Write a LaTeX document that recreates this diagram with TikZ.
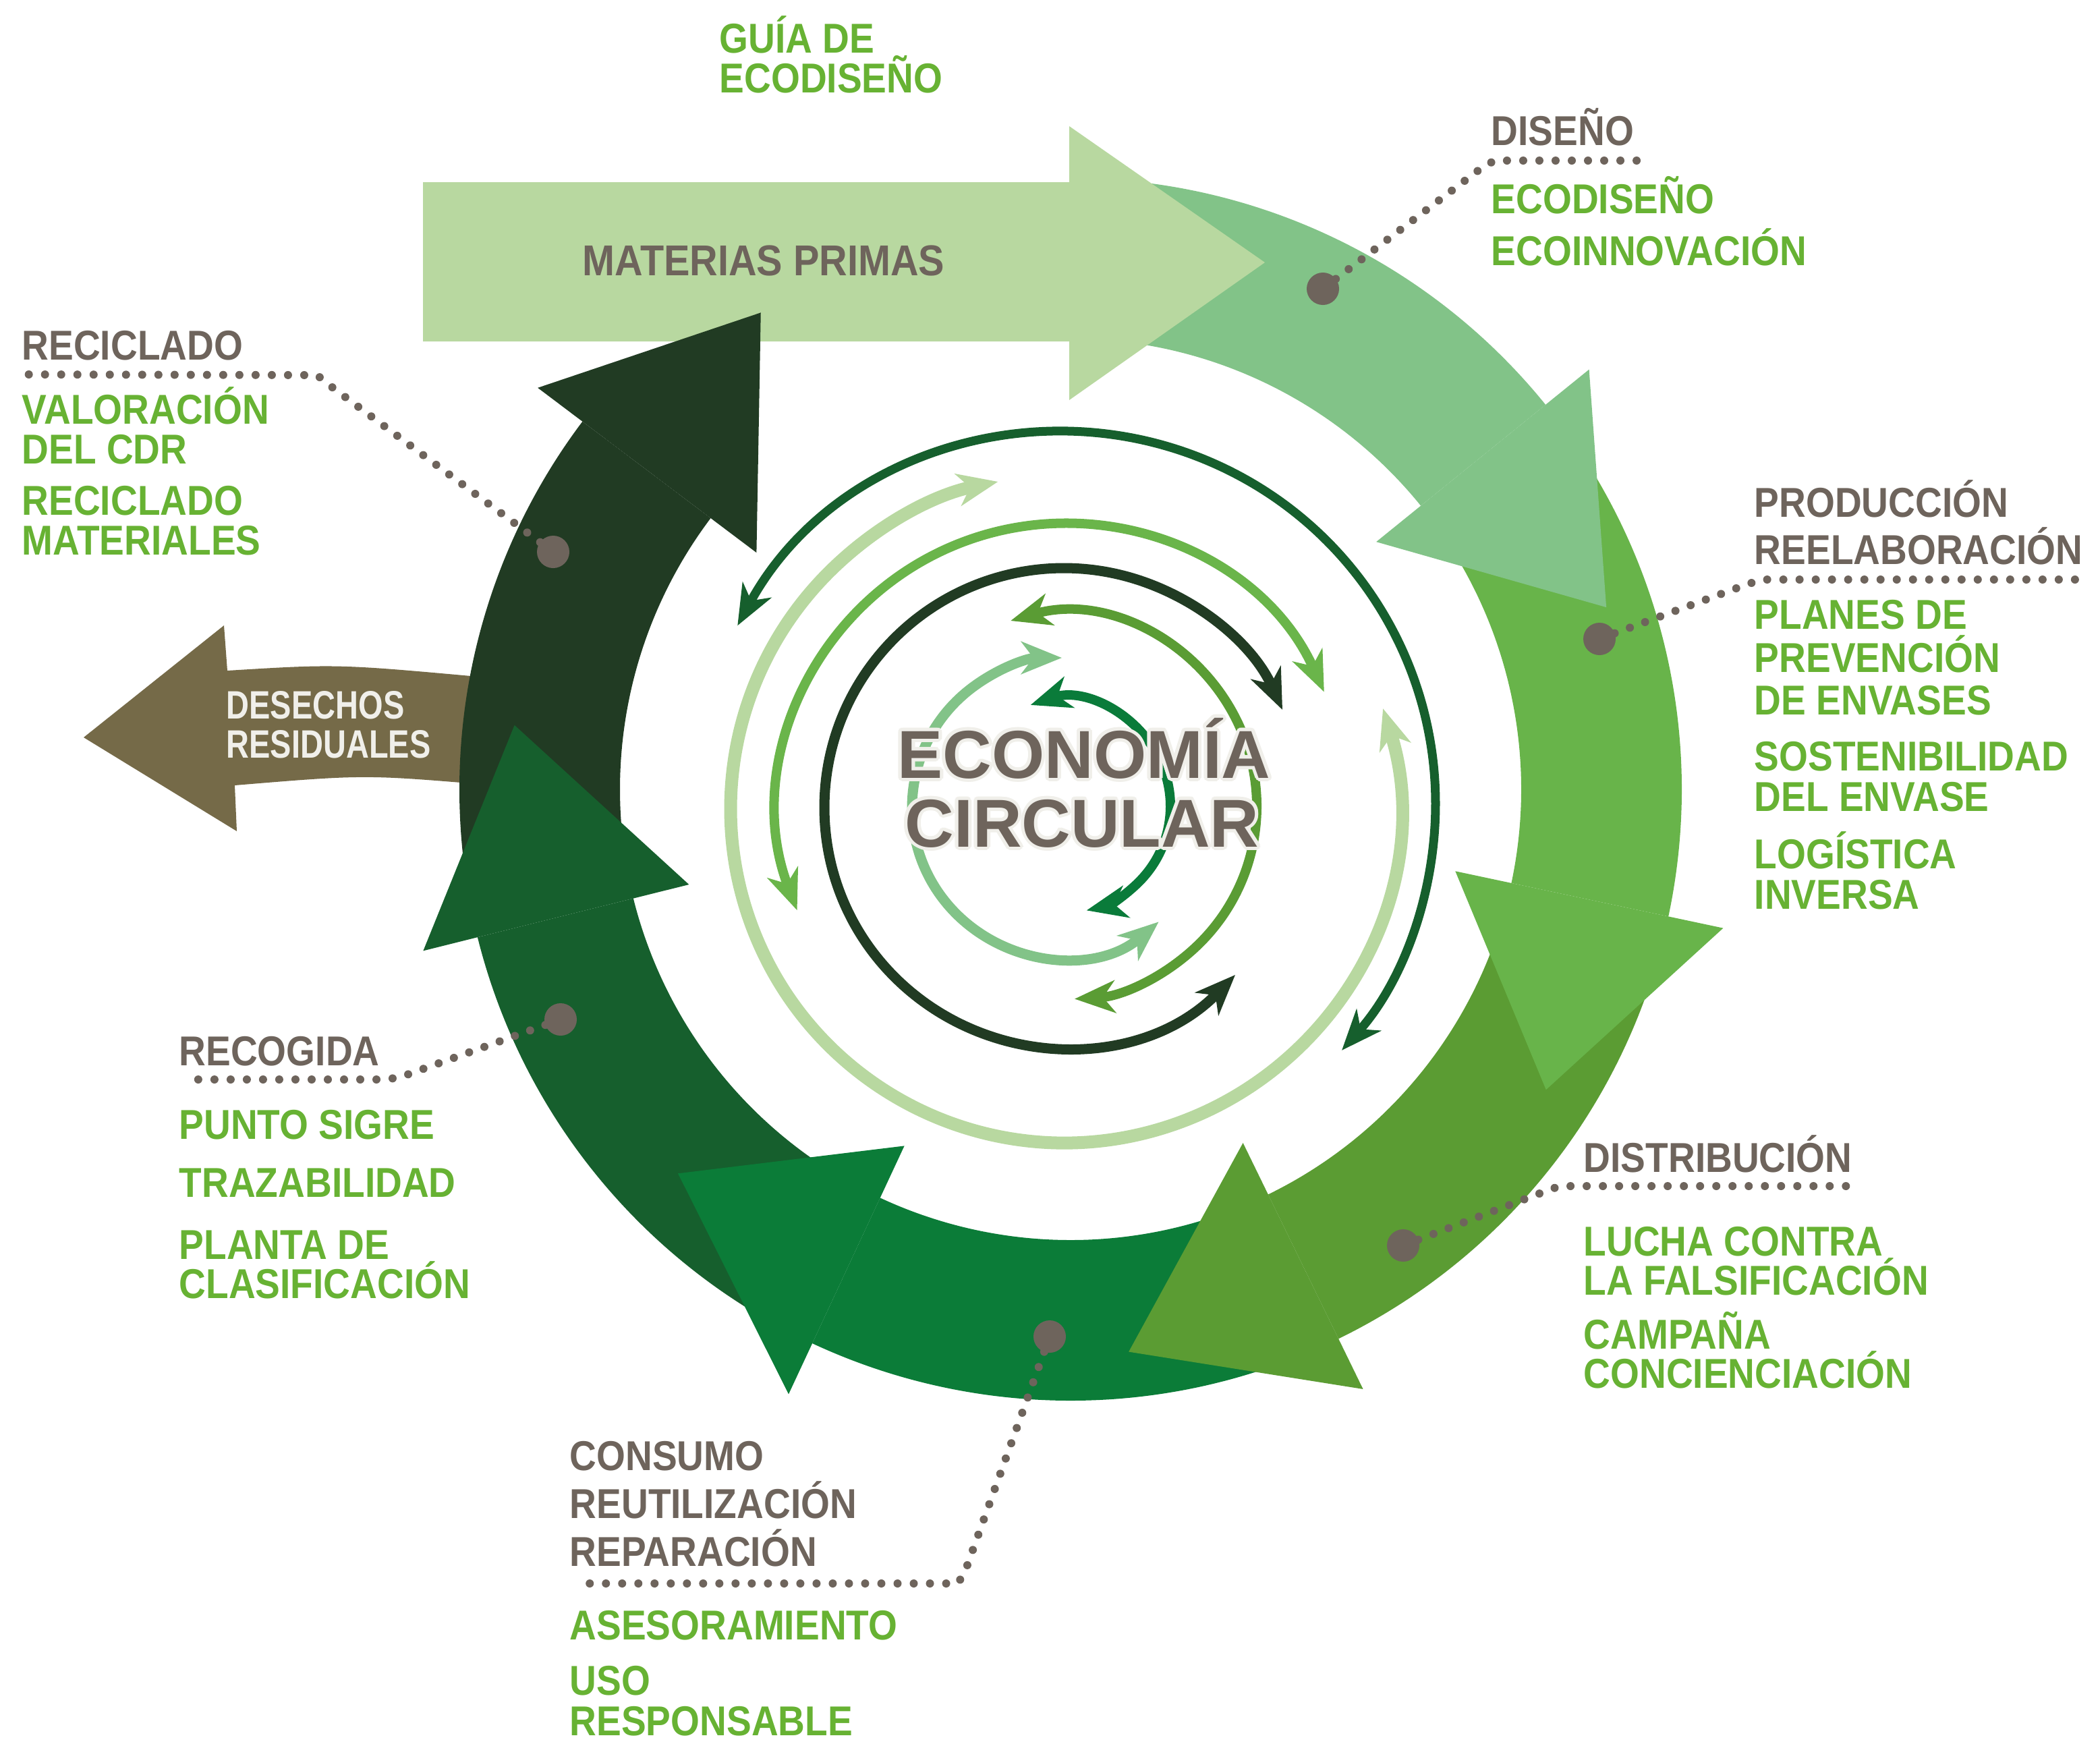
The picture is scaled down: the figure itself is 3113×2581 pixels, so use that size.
\documentclass[tikz,border=0pt]{standalone}
\usepackage{fontspec}
\setmainfont{Liberation Sans}
\newfontfamily\lblfont{Liberation Sans}[FakeStretch=0.89]
\newfontfamily\matfont{Liberation Sans}[FakeStretch=0.90]
\newfontfamily\desfont{Liberation Sans}[FakeStretch=0.80]
\newfontfamily\titfont{Liberation Sans}
\usetikzlibrary{arrows.meta}
\definecolor{cGrey}{HTML}{6E645C}
\definecolor{cGreen}{HTML}{67B233}
\definecolor{cMat}{HTML}{B8D8A0}
\definecolor{cDes}{HTML}{82C388}
\definecolor{cPro}{HTML}{68B44A}
\definecolor{cDist}{HTML}{5B9C33}
\definecolor{cCon}{HTML}{0B7C38}
\definecolor{cRcg}{HTML}{165F2D}
\definecolor{cRec}{HTML}{213B23}
\definecolor{cBrown}{HTML}{756A48}
\definecolor{cCream}{HTML}{F0EFEA}
\definecolor{cMed}{HTML}{6AB54A}
\definecolor{cOlive}{HTML}{5A9C34}
\definecolor{cDeep}{HTML}{0A7B3A}
\tikzset{
 lbl/.style={anchor=base west, inner sep=0pt, font={\lblfont\bfseries\fontsize{17.6pt}{21pt}\selectfont}},
 greytxt/.style={lbl, text=cGrey},
 greentxt/.style={lbl, text=cGreen},
 destxt/.style={anchor=base west, inner sep=0pt, text=cCream, font={\desfont\bfseries\fontsize{16.7pt}{20pt}\selectfont}},
 mattxt/.style={anchor=base west, inner sep=0pt, text=cGrey, font={\matfont\bfseries\fontsize{18.2pt}{22pt}\selectfont}},
 tittxt/.style={anchor=base, inner sep=0pt, font={\titfont\bfseries\fontsize{28.6pt}{34pt}\selectfont}},
 titfg/.style={tittxt, text=cGrey},
 titbg/.style={tittxt, text=cCream},
 dotline/.style={draw=cGrey, line width=0.12cm, line cap=round, dash pattern=on 0pt off 0.24cm},
 bigdot/.style={circle, fill=cGrey, minimum size=0.48cm, inner sep=0pt},
 inarc/.style={<->, line width=0.14cm},
}
\begin{document}
\begin{tikzpicture}[x=0.01cm, y=-0.01cm, >={Stealth[length=6mm,width=4.8mm,inset=1.8mm]}]
\useasboundingbox (0,0) rectangle (3113,2581);

% desechos residuales arrow
\fill[cBrown] (124,1093) -- (332,927) -- (337,994) .. controls (500,984) .. (720,1004) -- (720,1163) .. controls (540,1148) .. (348,1164) -- (351,1232) -- cycle;

% ring bands
\begin{scope}[shift={(1587,1170)}]
 \fill[cDes] (-88:906) arc[start angle=-88,end angle=-39,radius=906] -- (-39:668) arc[start angle=-39,end angle=-88,radius=668] -- cycle;
 \fill[cPro] (-33:906) arc[start angle=-33,end angle=12,radius=906] -- (12:668) arc[start angle=12,end angle=-33,radius=668] -- cycle;
 \fill[cDist] (18:906) arc[start angle=18,end angle=64,radius=906] -- (64:668) arc[start angle=64,end angle=18,radius=668] -- cycle;
 \fill[cCon] (70:906) arc[start angle=70,end angle=115,radius=906] -- (115:668) arc[start angle=115,end angle=70,radius=668] -- cycle;
 \fill[cRcg] (121:906) arc[start angle=121,end angle=166,radius=906] -- (166:668) arc[start angle=166,end angle=121,radius=668] -- cycle;
 \fill[cRec] (172:906) arc[start angle=172,end angle=217,radius=906] -- (217:668) arc[start angle=217,end angle=172,radius=668] -- cycle;
\end{scope}

% materias primas arrow
\fill[cMat] (627,270) -- (1585,270) -- (1585,187) -- (1875,389) -- (1585,593) -- (1585,506) -- (627,506) -- cycle;

% ring arrow heads
\begin{scope}[shift={(1587,1170)}]
 \fill[cDes] (-39:989) -- ([shift={(51:290)}]-39:787) -- (-39:583) -- cycle;
 \fill[cPro] (12:989) -- ([shift={(103:289)}]12:787) -- (12:583) -- cycle;
 \fill[cDist] (64:989) -- ([shift={(154:288)}]64:787) -- (64:583) -- cycle;
 \fill[cCon] (115:989) -- ([shift={(210:288)}]115:787) -- (115:583) -- cycle;
 \fill[cRcg] (166:989) -- ([shift={(258:292)}]166:787) -- (166:583) -- cycle;
 \fill[cRec] (217:989) -- ([shift={(306:288)}]217:787) -- (217:583) -- cycle;
\end{scope}

% inner arcs
\draw[inarc, cRcg, line width=0.13cm] ([shift={(208.6:551)}]1577,1191) arc[start angle=208.6,end angle=401.6,radius=551];
\draw[inarc, cMat, line width=0.19cm] ([shift={(-17.5:495)}]1578,1199) arc[start angle=-17.5,end angle=258.5,radius=495];
\draw[inarc, cMed] ([shift={(159.2:423)}]1577,1199) arc[start angle=159.2,end angle=335.8,radius=423];
\draw[inarc, cRec, line width=0.15cm] ([shift={(44.3:355)}]1577,1197) arc[start angle=44.3,end angle=335.9,radius=355];
\draw[inarc, cOlive] ([shift={(254:286)}]1577,1195) arc[start angle=254,end angle=446.8,radius=286];
\draw[inarc, cDes, line width=0.15cm] ([shift={(49.7:222)}]1574,1197) arc[start angle=49.7,end angle=270,radius=222];
\draw[inarc, cDeep] ([shift={(251.8:158)}]1577,1195) arc[start angle=251.8,end angle=437.7,radius=158];

% title with outline
\foreach \i in {0,...,15} {
 \node[titbg] (tbE\i) at ([shift={({\i*22.5}:5)}]1607,1153) {ECONOMÍA};
 \node[titbg] (tbC\i) at ([shift={({\i*22.5}:5)}]1604,1255) {CIRCULAR};
}
\node[titfg] (tE) at (1607,1153) {ECONOMÍA};
\node[titfg] (tC) at (1604,1255) {CIRCULAR};

% dotted leaders
\coordinate (pDis) at (1961,428);   \coordinate (eDis) at (2445,238);
\coordinate (pRec) at (820,818);    \coordinate (eRec) at (40,555);
\coordinate (pPro) at (2371,947);   \coordinate (ePro) at (3092,859);
\coordinate (pDist) at (2080,1846); \coordinate (eDist) at (2751,1758);
\coordinate (pCon) at (1556,1981);  \coordinate (eCon) at (851,2347);
\coordinate (pRcg) at (831,1511);   \coordinate (eRcg) at (275,1600);
\draw[dotline] (pDis) -- (2200,246) -- (2216,238) -- (eDis);
\draw[dotline] (pRec) -- (495,576) -- (470,556) -- (eRec);
\draw[dotline] (pPro) -- (2590,866) -- (2612,859) -- (ePro);
\draw[dotline] (pDist) -- (2290,1766) -- (2312,1758) -- (eDist);
\draw[dotline] (pCon) -- (1431,2328) -- (1420,2347) -- (eCon);
\draw[dotline] (pRcg) -- (592,1597) -- (570,1600) -- (eRcg);
\node[bigdot] (dDis) at (pDis) {};
\node[bigdot] (dRec) at (pRec) {};
\node[bigdot] (dPro) at (pPro) {};
\node[bigdot] (dDist) at (pDist) {};
\node[bigdot] (dCon) at (pCon) {};
\node[bigdot] (dRcg) at (pRcg) {};

% texts
\node[mattxt] (tMat) at (863,408) {MATERIAS PRIMAS};
\node[destxt] (tDes1) at (335,1065) {DESECHOS};
\node[destxt] (tDes2) at (335,1123) {RESIDUALES};

\node[greentxt] (tG1) at (1066,78) {GUÍA DE};
\node[greentxt] (tG2) at (1066,137) {ECODISEÑO};

\node[greytxt] (tD0) at (2210,215) {DISEÑO};
\node[greentxt] (tD1) at (2210,316) {ECODISEÑO};
\node[greentxt] (tD2) at (2210,393) {ECOINNOVACIÓN};

\node[greytxt] (tR0) at (32,533) {RECICLADO};
\node[greentxt] (tR1) at (32,628) {VALORACIÓN};
\node[greentxt] (tR2) at (32,687) {DEL CDR};
\node[greentxt] (tR3) at (32,763) {RECICLADO};
\node[greentxt] (tR4) at (32,822) {MATERIALES};

\node[greytxt] (tP0) at (2600,766) {PRODUCCIÓN};
\node[greytxt] (tP1) at (2600,836) {REELABORACIÓN};
\node[greentxt] (tP2) at (2600,932) {PLANES DE};
\node[greentxt] (tP3) at (2600,996) {PREVENCIÓN};
\node[greentxt] (tP4) at (2600,1059) {DE ENVASES};
\node[greentxt] (tP5) at (2600,1142) {SOSTENIBILIDAD};
\node[greentxt] (tP6) at (2600,1202) {DEL ENVASE};
\node[greentxt] (tP7) at (2600,1287) {LOGÍSTICA};
\node[greentxt] (tP8) at (2600,1347) {INVERSA};

\node[greytxt] (tS0) at (265,1579) {RECOGIDA};
\node[greentxt] (tS1) at (265,1688) {PUNTO SIGRE};
\node[greentxt] (tS2) at (265,1774) {TRAZABILIDAD};
\node[greentxt] (tS3) at (265,1866) {PLANTA DE};
\node[greentxt] (tS4) at (265,1924) {CLASIFICACIÓN};

\node[greytxt] (tT0) at (2347,1737) {DISTRIBUCIÓN};
\node[greentxt] (tT1) at (2347,1861) {LUCHA CONTRA};
\node[greentxt] (tT2) at (2347,1919) {LA FALSIFICACIÓN};
\node[greentxt] (tT3) at (2347,1999) {CAMPAÑA};
\node[greentxt] (tT4) at (2347,2057) {CONCIENCIACIÓN};

\node[greytxt] (tC0) at (844,2179) {CONSUMO};
\node[greytxt] (tC1) at (844,2250) {REUTILIZACIÓN};
\node[greytxt] (tC2) at (844,2321) {REPARACIÓN};
\node[greentxt] (tC3) at (844,2430) {ASESORAMIENTO};
\node[greentxt] (tC4) at (844,2512) {USO};
\node[greentxt] (tC5) at (844,2572) {RESPONSABLE};
\end{tikzpicture}
\end{document}
